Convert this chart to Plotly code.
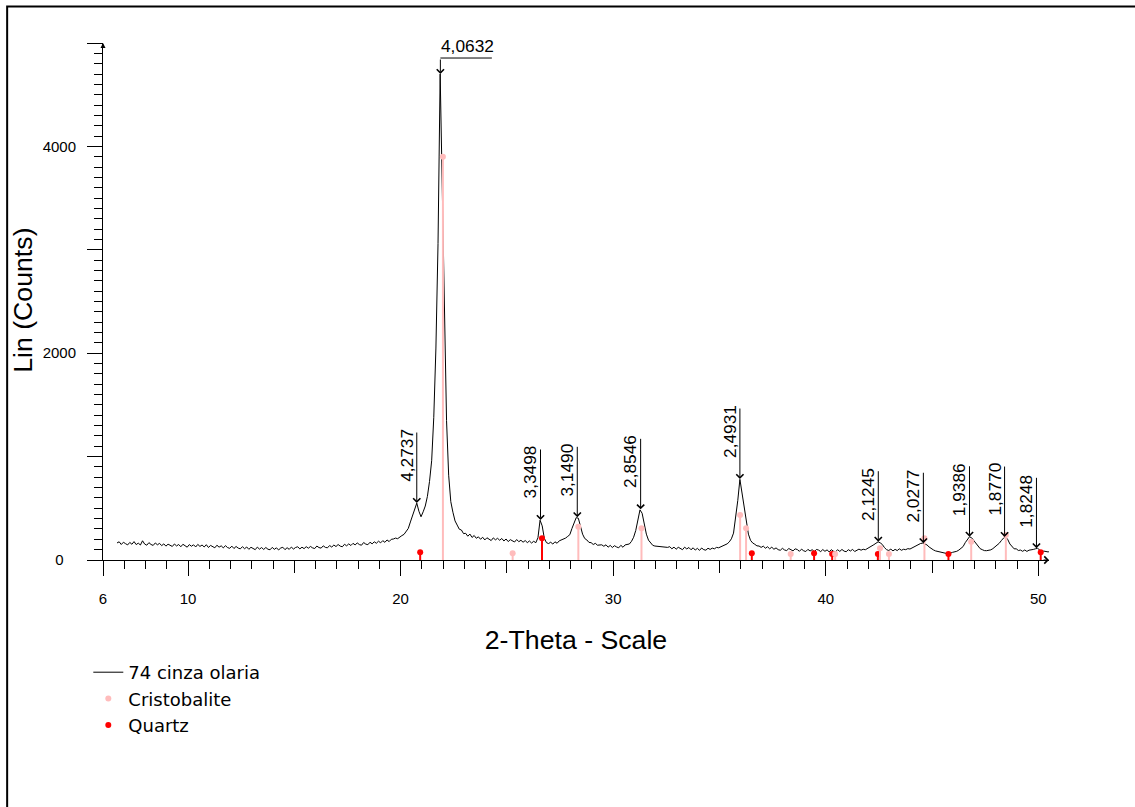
import plotly.graph_objects as go

# ---------------- data ----------------
scan_start = 6.66          # first 2-theta of the scan
scan_step = 0.1            # 2-theta step of the scan
counts = [
    165, 176, 150, 172, 158, 146, 170, 152, 178, 149,
    163, 145, 186, 154, 143, 168, 150, 141, 165, 147,
    161, 139, 156, 134, 153, 142, 131, 155, 136, 150,
    128, 152, 136, 124, 149, 133, 147, 126, 151, 131,
    145, 126, 148, 121, 141, 129, 118, 143, 124, 137,
    117, 139, 120, 113, 134, 111, 131, 115, 108, 129,
    109, 126, 103, 123, 108, 100, 125, 105, 120, 102,
    121, 104, 99, 122, 103, 118, 97, 116, 123, 100,
    119, 103, 125, 106, 121, 128, 107, 124, 110, 129,
    114, 131, 117, 111, 135, 120, 115, 137, 122, 118,
    140, 125, 145, 130, 150, 134, 128, 152, 137, 156,
    140, 161, 146, 165, 149, 143, 169, 154, 148, 172,
    156, 176, 162, 182, 166, 187, 171, 194, 178, 200,
    203, 212, 206, 224, 236, 248, 272, 305, 368, 425,
    475, 550, 472, 418, 466, 522, 615, 760, 960, 1380,
    2050, 3060, 4700, 3450, 2200, 1350, 820, 565, 462, 378,
    338, 298, 290, 255, 258, 230, 251, 218, 237, 210,
    224, 201, 220, 194, 215, 199, 188, 214, 195, 210,
    191, 208, 184, 203, 178, 197, 182, 174, 198, 177,
    191, 172, 188, 168, 184, 164, 181, 167, 215, 385,
    330, 210, 168, 159, 172, 154, 176, 162, 185, 192,
    200, 212, 228, 245, 305, 360, 410, 404, 320, 250,
    208, 194, 170, 168, 150, 161, 143, 145, 147, 133,
    147, 124, 141, 121, 138, 126, 118, 142, 123, 146,
    148, 155, 180, 220, 285, 380, 485, 452, 340, 250,
    192, 164, 142, 135, 134, 130, 129, 124, 125, 122,
    129, 108, 125, 104, 123, 110, 100, 124, 107, 121,
    99, 118, 96, 113, 93, 116, 100, 95, 114, 102,
    115, 108, 122, 118, 128, 135, 142, 156, 175, 205,
    260, 395, 575, 780, 650, 515, 350, 250, 190, 165,
    152, 137, 135, 122, 134, 114, 128, 108, 124, 104,
    117, 100, 94, 113, 97, 91, 111, 95, 88, 108,
    101, 84, 105, 89, 82, 103, 87, 100, 80, 102,
    96, 81, 101, 84, 98, 78, 100, 85, 80, 99,
    83, 102, 86, 80, 100, 87, 103, 82, 97, 105,
    95, 104, 99, 110, 118, 132, 148, 162, 176, 166,
    150, 120, 100, 92, 105, 88, 103, 91, 108, 94,
    104, 100, 110, 106, 118, 126, 138, 150, 160, 163,
    158, 146, 126, 110, 98, 88, 84, 76, 72, 68,
    64, 70, 66, 74, 78, 84, 96, 110, 130, 168,
    200, 225, 215, 190, 155, 130, 110, 100, 91, 90,
    92, 98, 110, 126, 142, 162, 188, 212, 222, 198,
    155, 128, 108, 108, 92, 96, 84, 97, 83, 95,
    96, 102, 108, 113, 98, 82, 86, 84, 78, 86,
]

peak_labels = ["4,2737", "4,0632", "3,3498", "3,1490", "2,8546", "2,4931",
               "2,1245", "2,0277", "1,9386", "1,8770", "1,8248"]
peak_2theta = [20.76, 21.87, 26.58, 28.31, 31.29, 35.96, 42.47, 44.59, 46.76, 48.41, 49.91]
peak_counts = [551, 4700, 387, 413, 490, 783, 177, 162, 225, 222, 113]

cristobalite_2theta = [21.99, 25.27, 28.36, 31.33, 35.97, 36.25, 38.35, 40.44, 42.55, 42.97, 44.64, 46.84, 48.47]
cristobalite_counts = [3900, 65, 322, 306, 435, 306, 58, 58, 113, 58, 210, 177, 242]
quartz_2theta = [20.92, 26.65, 36.52, 39.45, 40.30, 42.45, 45.77, 50.11]
quartz_counts = [75, 210, 65, 65, 58, 58, 58, 74]

series_names = ["74 cinza olaria", "Cristobalite", "Quartz"]
x_title = "2-Theta - Scale"
y_title = "Lin (Counts)"
x_range = [6, 50.5]
y_range = [0, 5000]
x_tick_vals = [6, 10, 20, 30, 40, 50]
x_mid_tick_vals = [15, 25, 35, 45]
y_tick_vals = [0, 1000, 2000, 3000, 4000, 5000]
y_tick_text = ["0\u00a0\u00a0\u00a0", "", "2000", "", "4000", ""]

# ---------------- layout geometry ----------------
W, H = 1135, 807
ML, MR, MT, MB = 102.7, 85.8, 43.0, 247.0
PW = W - ML - MR
PH = H - MT - MB

def paper_x(px):
    return (px - ML) / PW

def paper_y(py):
    return (H - MB - py) / PH

ARIAL = "Liberation Sans, Arial, sans-serif"
PINK = "#ffbcbc"
RED = "#ff0000"

two_theta = [round(scan_start + scan_step * i, 2) for i in range(len(counts))]

fig = go.Figure()

fig.add_trace(go.Scatter(
    x=two_theta, y=counts, mode="lines", name=series_names[0], legendrank=1,
    line=dict(color="black", width=1), xaxis="x", yaxis="y",
))
fig.add_trace(go.Scatter(
    x=quartz_2theta, y=quartz_counts, mode="markers", name=series_names[2], legendrank=3,
    marker=dict(color=RED, size=6),
    error_y=dict(type="data", symmetric=False, array=[0] * len(quartz_counts),
                 arrayminus=quartz_counts, width=0, thickness=2, color=RED),
    xaxis="x", yaxis="y",
))
fig.add_trace(go.Scatter(
    x=cristobalite_2theta, y=cristobalite_counts, mode="markers", name=series_names[1], legendrank=2,
    marker=dict(color=PINK, size=6),
    error_y=dict(type="data", symmetric=False, array=[0] * len(cristobalite_counts),
                 arrayminus=cristobalite_counts, width=0, thickness=2, color=PINK),
    xaxis="x2", yaxis="y",
))

annotations = []
LINE_LEN = 72
for lab, xv, yv in zip(peak_labels, peak_2theta, peak_counts):
    if lab == "4,0632":
        annotations.append(dict(x=xv, y=yv, xref="x", yref="y", text="", font=dict(size=1),
                                showarrow=True, ax=0, ay=-16, arrowhead=4, arrowsize=1.4,
                                arrowwidth=1, arrowcolor="black"))
        annotations.append(dict(x=xv, y=yv, xref="x", yref="y", text="", font=dict(size=1),
                                showarrow=True, ax=53, ay=0, yshift=16, arrowhead=0,
                                arrowwidth=1, arrowcolor="black"))
        annotations.append(dict(x=xv, y=yv, xref="x", yref="y", text=lab, showarrow=False,
                                xanchor="left", yanchor="bottom", xshift=-1, yshift=16,
                                font=dict(family=ARIAL, size=17.3, color="black")))
    else:
        annotations.append(dict(x=xv, y=yv, xref="x", yref="y", text="", font=dict(size=1),
                                showarrow=True, ax=0, ay=-LINE_LEN, arrowhead=4, arrowsize=1.4,
                                arrowwidth=1, arrowcolor="black"))
        annotations.append(dict(x=xv, y=yv, xref="x", yref="y", text=lab, showarrow=False,
                                textangle=-90, xanchor="right", yanchor="bottom",
                                xshift=1.5, yshift=19,
                                font=dict(family=ARIAL, size=17.3, color="black")))

# axis end arrows
annotations.append(dict(x=x_range[1], y=y_range[0], xref="x", yref="y", text="", font=dict(size=1),
                        showarrow=True, ax=-7, ay=0, arrowhead=4, arrowsize=1.4,
                        arrowwidth=1, arrowcolor="black"))
annotations.append(dict(x=x_range[0], y=y_range[1], xref="x", yref="y", text="", font=dict(size=1),
                        showarrow=True, ax=0, ay=5, arrowhead=2, arrowsize=1,
                        arrowwidth=1, arrowcolor="black"))

# y axis title (placed as a rotated annotation for exact placement)
annotations.append(dict(x=paper_x(22.5), y=paper_y(300), xref="paper", yref="paper",
                        text=y_title, showarrow=False, textangle=-90,
                        xanchor="center", yanchor="middle",
                        font=dict(family=ARIAL, size=26.7, color="black")))

axis_common = dict(showgrid=False, zeroline=False, color="black")

fig.update_layout(
    width=W, height=H,
    margin=dict(l=ML, r=MR, t=MT, b=MB, pad=0, autoexpand=False),
    paper_bgcolor="white", plot_bgcolor="white",
    font=dict(family=ARIAL, color="black", size=15),
    showlegend=True,
    legend=dict(x=paper_x(88), y=paper_y(654), xanchor="left", yanchor="top",
                bgcolor="rgba(0,0,0,0)", borderwidth=0, traceorder="normal",
                font=dict(family="DejaVu Sans", size=18, color="black"),
                itemwidth=30),
    xaxis=dict(range=x_range, showline=True, linecolor="black", linewidth=1,
               ticks="outside", tickvals=x_tick_vals, ticklen=15, tickwidth=1, tickcolor="black",
               minor=dict(dtick=1, tick0=6, ticks="outside", ticklen=8, tickwidth=1, tickcolor="black"),
               tickfont=dict(family=ARIAL, size=15), ticklabelstandoff=10,
               title=dict(text=x_title, font=dict(family=ARIAL, size=26.7), standoff=24),
               automargin=False, **axis_common),
    xaxis2=dict(range=x_range, overlaying="x", anchor="y", side="bottom", showline=False,
                ticks="outside", tickvals=x_mid_tick_vals, ticklen=12, tickwidth=1, tickcolor="black",
                showticklabels=False, automargin=False, **axis_common),
    yaxis=dict(range=y_range, showline=True, linecolor="black", linewidth=1,
               ticks="outside", tickvals=y_tick_vals, ticktext=y_tick_text,
               ticklen=15, tickwidth=1, tickcolor="black",
               minor=dict(dtick=100, tick0=0, ticks="outside", ticklen=8, tickwidth=1, tickcolor="black"),
               tickfont=dict(family=ARIAL, size=15), ticklabelstandoff=8,
               automargin=False, **axis_common),
    annotations=annotations,
    shapes=[dict(type="rect", xref="paper", yref="paper",
                 x0=paper_x(6.8), x1=paper_x(W + 10), y0=paper_y(H + 10), y1=paper_y(6.5),
                 line=dict(color="black", width=2), fillcolor="rgba(0,0,0,0)", layer="above")],
)

fig.write_html("out.html", config={"displayModeBar": False},
               post_script="document.body.style.margin='0';")
